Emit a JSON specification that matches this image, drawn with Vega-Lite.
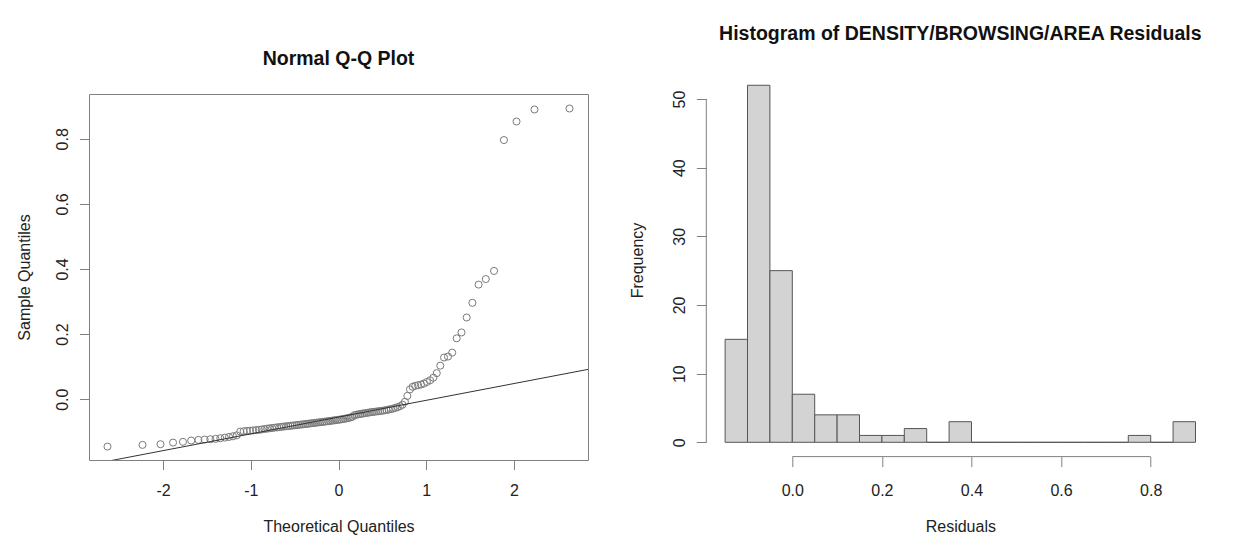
{
  "$schema": "https://vega.github.io/schema/vega-lite/v6.json",
  "background": "white",
  "padding": {"left": 16, "top": 23, "right": 5, "bottom": 5},
  "bounds": "flush",
  "spacing": 118.3,
  "config": {
    "font": "Liberation Sans",
    "view": {"stroke": null},
    "axis": {
      "grid": false,
      "domain": false,
      "tickColor": "#808080",
      "tickSize": 9.5,
      "labelFont": "Liberation Sans",
      "labelFontSize": 16,
      "labelColor": "#222222",
      "titleFont": "Liberation Sans",
      "titleFontSize": 16,
      "titleFontWeight": "normal",
      "titleColor": "#222222"
    },
    "title": {"font": "Liberation Sans", "fontSize": 19.5, "fontWeight": "bold", "color": "#111111", "baseline": "alphabetic", "anchor": "middle", "frame": "group"}
  },
  "datasets": {
    "qq": [
      {"theo": -2.633, "sample": -0.1456}, {"theo": -2.234, "sample": -0.1404}, {"theo": -2.029, "sample": -0.1383},
      {"theo": -1.886, "sample": -0.1333}, {"theo": -1.773, "sample": -0.131}, {"theo": -1.679, "sample": -0.127},
      {"theo": -1.597, "sample": -0.125}, {"theo": -1.526, "sample": -0.124}, {"theo": -1.461, "sample": -0.123},
      {"theo": -1.402, "sample": -0.122}, {"theo": -1.347, "sample": -0.12}, {"theo": -1.296, "sample": -0.118},
      {"theo": -1.248, "sample": -0.116}, {"theo": -1.203, "sample": -0.114}, {"theo": -1.16, "sample": -0.111},
      {"theo": -1.12, "sample": -0.0995}, {"theo": -1.081, "sample": -0.0985}, {"theo": -1.044, "sample": -0.0975},
      {"theo": -1.008, "sample": -0.0968}, {"theo": -0.973, "sample": -0.096}, {"theo": -0.94, "sample": -0.095},
      {"theo": -0.907, "sample": -0.094}, {"theo": -0.875, "sample": -0.093}, {"theo": -0.845, "sample": -0.0918},
      {"theo": -0.814, "sample": -0.0905}, {"theo": -0.785, "sample": -0.0895}, {"theo": -0.757, "sample": -0.0885},
      {"theo": -0.729, "sample": -0.0875}, {"theo": -0.701, "sample": -0.0866}, {"theo": -0.674, "sample": -0.0857},
      {"theo": -0.648, "sample": -0.0848}, {"theo": -0.622, "sample": -0.084}, {"theo": -0.596, "sample": -0.0832},
      {"theo": -0.571, "sample": -0.0825}, {"theo": -0.547, "sample": -0.0818}, {"theo": -0.522, "sample": -0.081},
      {"theo": -0.498, "sample": -0.0802}, {"theo": -0.474, "sample": -0.0795}, {"theo": -0.451, "sample": -0.0787},
      {"theo": -0.427, "sample": -0.078}, {"theo": -0.404, "sample": -0.0772}, {"theo": -0.381, "sample": -0.0765},
      {"theo": -0.358, "sample": -0.0757}, {"theo": -0.336, "sample": -0.075}, {"theo": -0.313, "sample": -0.0742},
      {"theo": -0.291, "sample": -0.0735}, {"theo": -0.269, "sample": -0.0727}, {"theo": -0.247, "sample": -0.072},
      {"theo": -0.225, "sample": -0.0712}, {"theo": -0.203, "sample": -0.0705}, {"theo": -0.181, "sample": -0.0698},
      {"theo": -0.16, "sample": -0.069}, {"theo": -0.138, "sample": -0.0683}, {"theo": -0.117, "sample": -0.0676},
      {"theo": -0.096, "sample": -0.0668}, {"theo": -0.074, "sample": -0.066}, {"theo": -0.053, "sample": -0.0652},
      {"theo": -0.032, "sample": -0.0645}, {"theo": -0.011, "sample": -0.0637}, {"theo": 0.011, "sample": -0.0628},
      {"theo": 0.032, "sample": -0.062}, {"theo": 0.053, "sample": -0.061}, {"theo": 0.074, "sample": -0.06},
      {"theo": 0.096, "sample": -0.0588}, {"theo": 0.117, "sample": -0.0575}, {"theo": 0.138, "sample": -0.056},
      {"theo": 0.16, "sample": -0.054}, {"theo": 0.181, "sample": -0.049}, {"theo": 0.203, "sample": -0.0478},
      {"theo": 0.225, "sample": -0.0466}, {"theo": 0.247, "sample": -0.0455}, {"theo": 0.269, "sample": -0.0445},
      {"theo": 0.291, "sample": -0.0435}, {"theo": 0.313, "sample": -0.0425}, {"theo": 0.336, "sample": -0.0415},
      {"theo": 0.358, "sample": -0.0405}, {"theo": 0.381, "sample": -0.0396}, {"theo": 0.404, "sample": -0.0388},
      {"theo": 0.427, "sample": -0.038}, {"theo": 0.451, "sample": -0.0372}, {"theo": 0.474, "sample": -0.0364},
      {"theo": 0.498, "sample": -0.0355}, {"theo": 0.522, "sample": -0.0345}, {"theo": 0.547, "sample": -0.0333},
      {"theo": 0.571, "sample": -0.032}, {"theo": 0.596, "sample": -0.0305}, {"theo": 0.622, "sample": -0.0288},
      {"theo": 0.648, "sample": -0.0268}, {"theo": 0.674, "sample": -0.0245}, {"theo": 0.701, "sample": -0.0215},
      {"theo": 0.729, "sample": -0.017}, {"theo": 0.757, "sample": -0.008}, {"theo": 0.785, "sample": 0.01},
      {"theo": 0.814, "sample": 0.03}, {"theo": 0.845, "sample": 0.038}, {"theo": 0.875, "sample": 0.041},
      {"theo": 0.907, "sample": 0.043}, {"theo": 0.94, "sample": 0.045}, {"theo": 0.973, "sample": 0.048},
      {"theo": 1.008, "sample": 0.053}, {"theo": 1.044, "sample": 0.058}, {"theo": 1.081, "sample": 0.066},
      {"theo": 1.12, "sample": 0.08}, {"theo": 1.16, "sample": 0.103}, {"theo": 1.203, "sample": 0.128},
      {"theo": 1.248, "sample": 0.131}, {"theo": 1.296, "sample": 0.143}, {"theo": 1.347, "sample": 0.187},
      {"theo": 1.402, "sample": 0.205}, {"theo": 1.461, "sample": 0.251}, {"theo": 1.526, "sample": 0.296},
      {"theo": 1.597, "sample": 0.352}, {"theo": 1.679, "sample": 0.369}, {"theo": 1.773, "sample": 0.394},
      {"theo": 1.886, "sample": 0.796}, {"theo": 2.029, "sample": 0.853}, {"theo": 2.234, "sample": 0.89},
      {"theo": 2.633, "sample": 0.893}
    ],
    "qqline": [
      {"theo": -2.844, "sample": -0.2015},
      {"theo": 2.844, "sample": 0.0915}
    ],
    "hist": [
      {"bin_start": -0.15, "bin_end": -0.1, "count": 15},
      {"bin_start": -0.1, "bin_end": -0.05, "count": 52},
      {"bin_start": -0.05, "bin_end": 0, "count": 25},
      {"bin_start": 0, "bin_end": 0.05, "count": 7},
      {"bin_start": 0.05, "bin_end": 0.1, "count": 4},
      {"bin_start": 0.1, "bin_end": 0.15, "count": 4},
      {"bin_start": 0.15, "bin_end": 0.2, "count": 1},
      {"bin_start": 0.2, "bin_end": 0.25, "count": 1},
      {"bin_start": 0.25, "bin_end": 0.3, "count": 2},
      {"bin_start": 0.3, "bin_end": 0.35, "count": 0},
      {"bin_start": 0.35, "bin_end": 0.4, "count": 3},
      {"bin_start": 0.4, "bin_end": 0.45, "count": 0},
      {"bin_start": 0.45, "bin_end": 0.5, "count": 0},
      {"bin_start": 0.5, "bin_end": 0.55, "count": 0},
      {"bin_start": 0.55, "bin_end": 0.6, "count": 0},
      {"bin_start": 0.6, "bin_end": 0.65, "count": 0},
      {"bin_start": 0.65, "bin_end": 0.7, "count": 0},
      {"bin_start": 0.7, "bin_end": 0.75, "count": 0},
      {"bin_start": 0.75, "bin_end": 0.8, "count": 1},
      {"bin_start": 0.8, "bin_end": 0.85, "count": 0},
      {"bin_start": 0.85, "bin_end": 0.9, "count": 3}
    ]
  },
  "hconcat": [
    {
      "width": 499,
      "height": 366,
      "view": {"stroke": "#808080", "strokeWidth": 1},
      "title": {"text": "Normal Q-Q Plot", "offset": 25},
      "layer": [
        {
          "data": {"name": "qq"},
          "mark": {"type": "point", "shape": "circle", "filled": false, "size": 50, "strokeWidth": 1, "color": "#7a7a7a", "opacity": 1},
          "encoding": {
            "x": {
              "field": "theo", "type": "quantitative",
              "scale": {"domain": [-2.844, 2.844], "nice": false, "zero": false},
              "axis": {"title": "Theoretical Quantiles", "values": [-2, -1, 0, 1, 2], "labelExpr": "'' + datum.value",
                       "labelPadding": 25.5, "labelBaseline": "alphabetic", "labelFlush": false,
                       "titleX": 249.5, "titleY": 71, "titleBaseline": "alphabetic", "titleAlign": "center"}
            },
            "y": {
              "field": "sample", "type": "quantitative",
              "scale": {"domain": [-0.1868, 0.9375], "nice": false, "zero": false},
              "axis": {"title": "Sample Quantiles", "values": [0, 0.2, 0.4, 0.6, 0.8], "format": ".1f",
                       "labelAngle": 270, "labelAlign": "center", "labelBaseline": "alphabetic", "labelPadding": 12,
                       "titleX": -59.5, "titleY": 183, "titleAngle": 270, "titleAlign": "center", "titleBaseline": "alphabetic"}
            }
          }
        },
        {
          "data": {"name": "qqline"},
          "mark": {"type": "line", "clip": true, "color": "#333333", "strokeWidth": 1},
          "encoding": {
            "x": {"field": "theo", "type": "quantitative", "axis": {"title": "Theoretical Quantiles"}},
            "y": {"field": "sample", "type": "quantitative", "axis": {"title": "Sample Quantiles"}}
          }
        }
      ]
    },
    {
      "width": 508,
      "height": 362.6,
      "title": {"text": "Histogram of DENSITY/BROWSING/AREA Residuals", "offset": 40.3},
      "layer": [
        {
          "data": {"name": "hist"},
          "mark": {"type": "rect", "fill": "#D3D3D3", "stroke": "#555555", "strokeWidth": 1},
          "encoding": {
            "x": {
              "field": "bin_start", "type": "quantitative",
              "scale": {"domain": [-0.192, 0.942], "nice": false, "zero": false},
              "axis": {"title": "Residuals", "values": [0, 0.2, 0.4, 0.6, 0.8], "format": ".1f", "tickSize": 10,
                       "labelPadding": 28.5, "labelBaseline": "alphabetic", "labelFlush": false,
                       "titleX": 254, "titleY": 74.5, "titleBaseline": "alphabetic", "titleAlign": "center"}
            },
            "x2": {"field": "bin_end"},
            "y": {
              "field": "count", "type": "quantitative",
              "scale": {"domain": [-2.083, 50.73], "nice": false, "zero": false},
              "axis": {"title": "Frequency", "values": [0, 10, 20, 30, 40, 50], "tickSize": 10,
                       "labelAngle": 270, "labelAlign": "center", "labelBaseline": "alphabetic", "labelPadding": 12,
                       "titleX": -63.5, "titleY": 166, "titleAngle": 270, "titleAlign": "center", "titleBaseline": "alphabetic"}
            },
            "y2": {"datum": 0}
          }
        },
        {
          "data": {"values": [{}]},
          "mark": {"type": "rule", "color": "#808080", "strokeWidth": 1},
          "encoding": {"x": {"datum": -0.192}, "y": {"datum": 0}, "y2": {"datum": 50}}
        },
        {
          "data": {"values": [{}]},
          "mark": {"type": "rule", "color": "#808080", "strokeWidth": 1},
          "encoding": {"y": {"datum": -2.083}, "x": {"datum": 0}, "x2": {"datum": 0.8}}
        }
      ]
    }
  ]
}
